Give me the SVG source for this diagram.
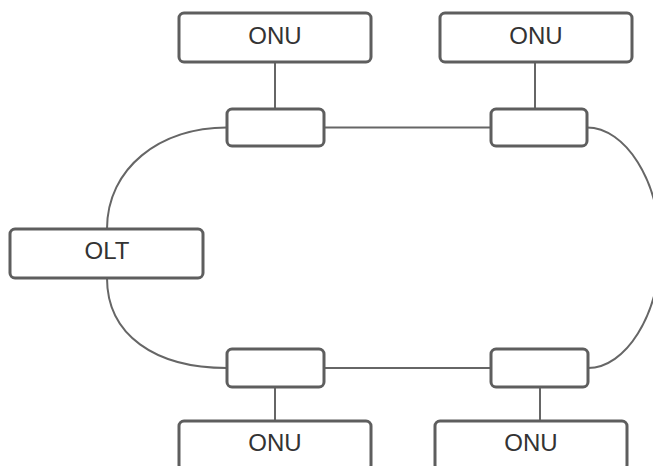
<svg xmlns="http://www.w3.org/2000/svg" width="653" height="466" viewBox="0 0 653 466">
<style>
.box{fill:#fff;stroke:#5e5e5e;stroke-width:3}
.lbl{font-family:"Liberation Sans",Arial,sans-serif;font-size:24px;fill:#333;text-anchor:middle;dominant-baseline:central}
.edge{fill:none;stroke:#666;stroke-width:2}
</style>
<rect width="653" height="466" fill="#fff"/>
<g id="connectors">
<path class="edge" d="M275 62V109"/>
<path class="edge" d="M535 62V109"/>
<path class="edge" d="M324 127.5H491"/>
<path class="edge" d="M324 368H491"/>
<path class="edge" d="M275 387V421"/>
<path class="edge" d="M540 387V421"/>
<path class="edge" d="M227 127.5C160 127.5 107 168 107 229"/>
<path class="edge" d="M107 278C107 335 155 368 227 368"/>
<path class="edge" d="M587 127.5C625 127.5 660 180 660 248C660 316 625 368 588 368"/>
</g>
<g id="onu1"><rect class="box" x="179" y="13" width="192" height="49" rx="5"/><text class="lbl" x="275" y="35">ONU</text></g>
<g id="onu2"><rect class="box" x="440" y="13" width="192" height="49" rx="5"/><text class="lbl" x="536" y="35">ONU</text></g>
<g id="splitter1"><rect class="box" x="227" y="109" width="97" height="37" rx="5"/></g>
<g id="splitter2"><rect class="box" x="491" y="109" width="96" height="37" rx="5"/></g>
<g id="olt"><rect class="box" x="10" y="229" width="193" height="49" rx="5"/><text class="lbl" x="107" y="250">OLT</text></g>
<g id="splitter3"><rect class="box" x="227" y="349" width="97" height="38" rx="5"/></g>
<g id="splitter4"><rect class="box" x="491" y="349" width="97" height="38" rx="5"/></g>
<g id="onu3"><rect class="box" x="179" y="421" width="192" height="49" rx="5"/><text class="lbl" x="275" y="442">ONU</text></g>
<g id="onu4"><rect class="box" x="435" y="421" width="192" height="49" rx="5"/><text class="lbl" x="531" y="442">ONU</text></g>
</svg>
